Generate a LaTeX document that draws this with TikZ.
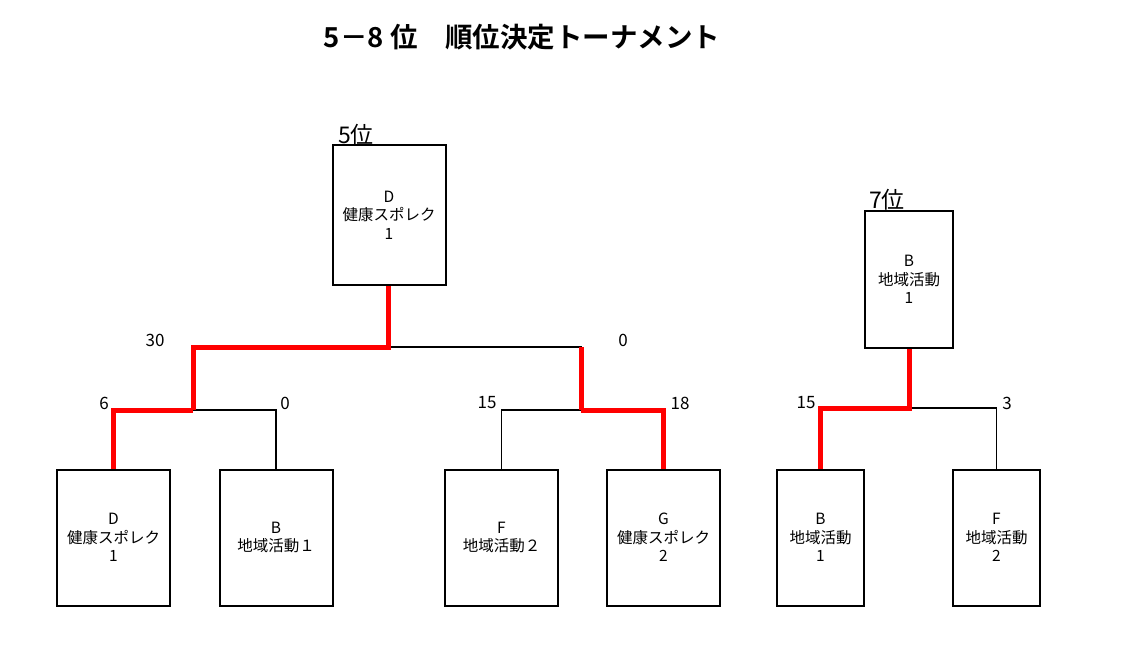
\documentclass[tikz,border=0pt]{standalone}
\usepackage{fontspec}
\newfontfamily\cjk{Noto Sans CJK JP}
\newfontfamily\cjkb{Noto Sans CJK JP Bold}
\begin{document}
\begin{tikzpicture}[x=1pt,y=-1pt,
  team/.style={draw,line width=2pt,minimum width=#1,minimum height=136pt,inner sep=0pt,align=center,font=\cjk\fontsize{15.5}{18.5}\selectfont},
  team/.default=113pt,
  win/.style={draw=red,line width=5pt,line join=miter},
  lose/.style={draw=black,line width=1.5pt},
  score/.style={font=\cjk\fontsize{17}{18}\selectfont,inner sep=0pt},
  rank/.style={font=\cjk\fontsize{23}{24}\selectfont,inner sep=0pt,anchor=south west}]
\useasboundingbox (0,0) rectangle (1121,652);
% title
\node[font=\cjkb\fontsize{27.5}{30}\selectfont,inner sep=0pt] (title) at (522,37) {5－8 位　順位決定トーナメント};
% boxes
\node[team,minimum height=140pt] (top5) at (389,215) {D\\健康スポレク\\1};
\node[team=88pt,minimum height=137pt] (top7) at (909,279.5) {B\\地域活動\\1};
\node[team] (b1) at (113.5,537.5) {D\\健康スポレク\\1};
\node[team] (b2) at (276,537.5) {B\\地域活動１};
\node[team] (b3) at (501.5,537.5) {F\\地域活動２};
\node[team] (b4) at (663.5,537.5) {G\\健康スポレク\\2};
\node[team=87pt] (b5) at (820.5,537.5) {B\\地域活動\\1};
\node[team=87pt] (b6) at (996.5,537.5) {F\\地域活動\\2};
% rank labels
\node[rank] (r5) at (338,145) {5位};
\node[rank] (r7) at (869,210) {7位};
% junctions
\coordinate (jL) at (193,410);
\coordinate (jR) at (581,410);
\coordinate (jT) at (388,347);
\coordinate (jE) at (909,408);
% left semifinal
\draw[lose] (jL) -| (b2.north);
\draw[win] (b1.north) |- (jL);
% right semifinal
\draw[lose] (jR) -| (b3.north);
\draw[win] (jR) -| (b4.north);
% final
\draw[lose] (jT) -| (jR);
\draw[win] (jR) -- (jR |- jT);
\draw[win] (jL) |- (jT) -- (jT |- top5.south);
% 7th place
\draw[lose] (jE) -| (b6.north);
\draw[win] (top7.south) -- (jE) -| (b5.north);
% scores
\node[score] (s30) at (155,340) {30};
\node[score] (s0a) at (623,340) {0};
\node[score] (s6) at (104,403) {6};
\node[score] (s0b) at (285,403) {0};
\node[score] (s15a) at (487,403) {15};
\node[score] (s18) at (680,403) {18};
\node[score] (s15b) at (806,403) {15};
\node[score] (s3) at (1007,403) {3};
\end{tikzpicture}
\end{document}
